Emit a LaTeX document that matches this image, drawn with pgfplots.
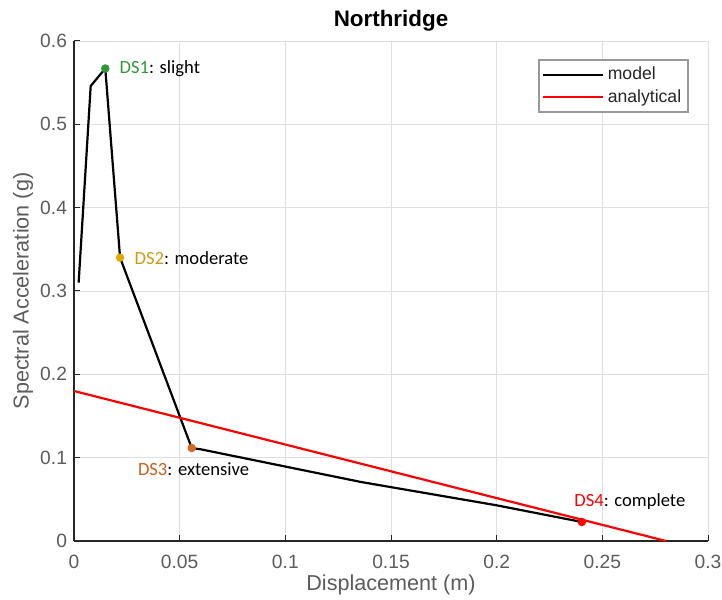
\documentclass[border=0pt]{standalone}
\usepackage{pgfplots}
\pgfplotsset{compat=1.18}
\usepackage{fontspec}
\setmainfont{Liberation Sans}
\newfontfamily\carlito{Carlito}
\definecolor{axgray}{rgb}{0.15,0.15,0.15}
\definecolor{dsgreen}{HTML}{2E9A35}
\definecolor{dsyellow}{HTML}{E0A800}
\definecolor{dsyellowt}{HTML}{D09A10}
\definecolor{dsorange}{HTML}{D8691C}
\definecolor{dsorangeT}{HTML}{C8601A}
\begin{document}
\begin{tikzpicture}
\begin{axis}[
  scale only axis,
  width=317pt, height=250pt,
  xmin=0, xmax=0.3, ymin=0, ymax=0.6,
  xtick={0,0.05,0.1,0.15,0.2,0.25,0.3},
  ytick={0,0.1,0.2,0.3,0.4,0.5,0.6},
  xticklabels={0,0.05,0.1,0.15,0.2,0.25,0.3},
  yticklabels={0,0.1,0.2,0.3,0.4,0.5,0.6},
  axis x line=bottom, axis y line=left,
  axis line style={axgray, line width=0.6pt, -},
  tick align=inside,
  major tick length=3pt,
  tick style={axgray, line width=0.5pt},
  grid=major,
  grid style={gray!25, line width=0.4pt},
  ticklabel style={font=\fontsize{9.6}{11}\selectfont, text=axgray!75},
  xticklabel style={yshift=-3.5pt},
  xlabel={Displacement (m)},
  ylabel={Spectral Acceleration (g)},
  label style={font=\fontsize{10.8}{12}\selectfont, text=axgray!75},
  xlabel style={at={(axis description cs:0.5,-0.088)}, anchor=center},
  ylabel style={at={(axis description cs:-0.0804,0.5)}, anchor=center},
  title={\textbf{Northridge}},
  title style={font=\fontsize{11.2}{12}\selectfont, at={(axis description cs:0.5,1.042)}, anchor=center, yshift=-6.5pt},
  legend style={at={(0.97,0.964)}, anchor=north east, draw=gray!80, line width=0.8pt,
     font=\fontsize{8.8}{10}\selectfont, text=axgray, inner sep=1.5pt, row sep=-0.5pt},
  legend cell align=left,
  legend image code/.code={\draw[#1, line width=1pt] (0pt,0pt) -- (30pt,0pt);},
  clip=false,
]
\addplot[black, line width=1.1pt] coordinates {
  (0.0022,0.310) (0.0079,0.546) (0.0148,0.567) (0.0218,0.340) (0.0557,0.1116)
  (0.060,0.1100) (0.1358,0.0708) (0.200,0.0428) (0.2403,0.0228)
};
\addlegendentry{model}
\addplot[red, line width=1.1pt] coordinates {(0,0.18) (0.2801,0)};
\addlegendentry{analytical}
\addplot[only marks, mark=*, mark size=1.9pt, color=dsgreen, forget plot] coordinates {(0.0148,0.567)};
\addplot[only marks, mark=*, mark size=1.9pt, color=dsyellow, forget plot] coordinates {(0.0218,0.340)};
\addplot[only marks, mark=*, mark size=1.9pt, color=dsorange, forget plot] coordinates {(0.0557,0.1116)};
\addplot[only marks, mark=*, mark size=1.9pt, color=red, forget plot] coordinates {(0.2403,0.0228)};
\node[anchor=west, inner sep=0pt, font=\carlito\fontsize{9.3}{11}\selectfont] at (axis cs:0.0214,0.567) {\textcolor{dsgreen}{DS1}: slight};
\node[anchor=west, inner sep=0pt, font=\carlito\fontsize{9.3}{11}\selectfont] at (axis cs:0.0285,0.340) {\textcolor{dsyellowt}{DS2}: moderate};
\node[anchor=west, inner sep=0pt, font=\carlito\fontsize{9.3}{11}\selectfont] at (axis cs:0.0301,0.086) {\textcolor{dsorangeT}{DS3}: extensive};
\node[anchor=west, inner sep=0pt, font=\carlito\fontsize{9.3}{11}\selectfont] at (axis cs:0.2366,0.0468) {\textcolor{red}{DS4}: complete};
\end{axis}
\pgfresetboundingbox
\path[use as bounding box] ([shift={(-37pt,-29.5pt)}]current axis.south west) rectangle ([shift={(7pt,20.5pt)}]current axis.north east);
\end{tikzpicture}
\end{document}
